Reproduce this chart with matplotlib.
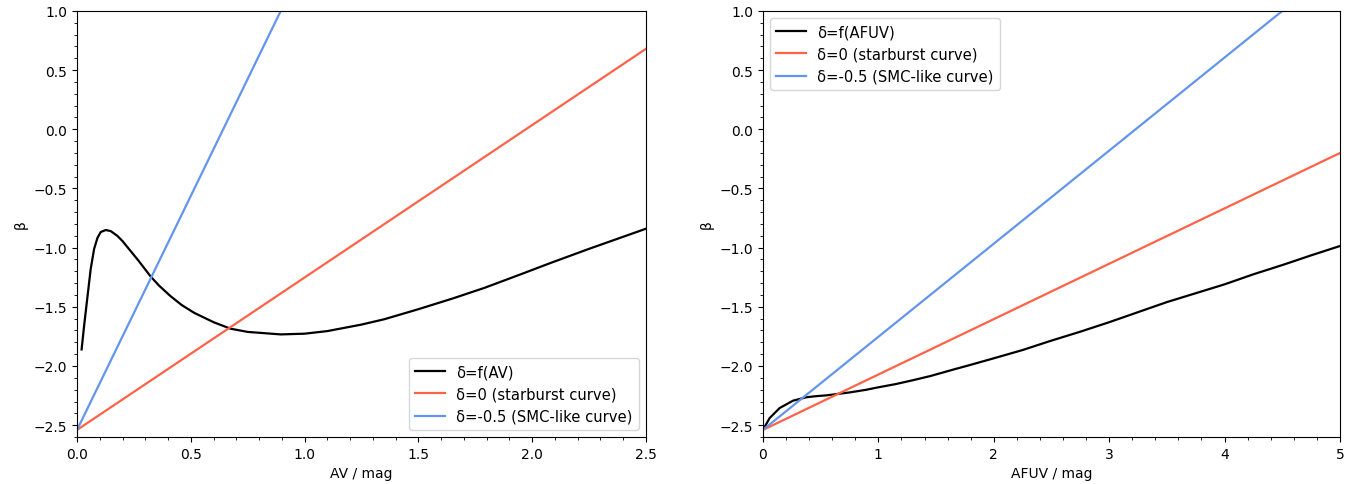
import matplotlib
matplotlib.use("Agg")
import matplotlib.pyplot as plt

# left panel: beta vs AV
av_black = [0.02, 0.031, 0.046, 0.060, 0.075, 0.090, 0.104, 0.126, 0.148, 0.177, 0.20,
            0.236, 0.27, 0.324, 0.36, 0.411, 0.46, 0.514, 0.60, 0.675, 0.75, 0.895, 1.0,
            1.10, 1.25, 1.35, 1.50, 1.65, 1.79, 1.95, 2.08, 2.25, 2.50]
beta_av_black = [-1.86, -1.66, -1.41, -1.18, -1.01, -0.916, -0.868, -0.851, -0.86, -0.90, -0.945,
                 -1.03, -1.11, -1.245, -1.32, -1.41, -1.485, -1.55, -1.63, -1.685, -1.712, -1.733, -1.727,
                 -1.705, -1.65, -1.605, -1.52, -1.43, -1.34, -1.225, -1.13, -1.01, -0.84]
av_line = [0.0, 2.5]
beta_av_starburst = [-2.54, 0.68]
av_smc = [0.0, 0.895]
beta_av_smc = [-2.54, 1.0]

# right panel: beta vs AFUV
afuv_black = [0.0, 0.058, 0.145, 0.261, 0.377, 0.45, 0.551, 0.754, 0.9, 1.0, 1.15, 1.30,
              1.45, 1.65, 1.8, 2.0, 2.25, 2.485, 2.75, 3.0, 3.25, 3.5, 3.75, 4.0, 4.25,
              4.51, 4.75, 5.0]
beta_fuv_black = [-2.54, -2.44, -2.355, -2.293, -2.264, -2.256, -2.248, -2.223, -2.20, -2.18,
                  -2.153, -2.12, -2.085, -2.03, -1.99, -1.935, -1.865, -1.79, -1.71, -1.63, -1.545,
                  -1.46, -1.385, -1.31, -1.225, -1.144, -1.065, -0.986]
afuv_line = [0.0, 5.0]
beta_fuv_starburst = [-2.54, -0.20]
afuv_smc = [0.0, 4.5]
beta_fuv_smc = [-2.54, 1.0]

fig = plt.figure(figsize=(13.59, 4.85), dpi=100)
ax1 = fig.add_axes([0.0567, 0.0969, 0.4186, 0.8784])
ax2 = fig.add_axes([0.5614, 0.0969, 0.4246, 0.8784])

ax1.plot(av_black, beta_av_black, color='black', lw=1.6, solid_joinstyle='round', label='δ=f(AV)')
ax1.plot(av_line, beta_av_starburst, color='tomato', lw=1.6, label='δ=0 (starburst curve)')
ax1.plot(av_smc, beta_av_smc, color='cornflowerblue', lw=1.6, label='δ=-0.5 (SMC-like curve)')
ax1.set_xlim(0, 2.5)
ax1.set_ylim(-2.6, 1.0)
ax1.set_xlabel('AV / mag')
ax1.set_ylabel('β')
ax1.minorticks_on()
ax1.legend(loc='lower right', fontsize=10.6)

ax2.plot(afuv_black, beta_fuv_black, color='black', lw=1.6, solid_joinstyle='round', label='δ=f(AFUV)')
ax2.plot(afuv_line, beta_fuv_starburst, color='tomato', lw=1.6, label='δ=0 (starburst curve)')
ax2.plot(afuv_smc, beta_fuv_smc, color='cornflowerblue', lw=1.6, label='δ=-0.5 (SMC-like curve)')
ax2.set_xlim(0, 5)
ax2.set_ylim(-2.6, 1.0)
ax2.set_xlabel('AFUV / mag')
ax2.set_ylabel('β')
ax2.minorticks_on()
ax2.legend(loc='upper left', fontsize=10.6)

fig.savefig('out.png', dpi=100)
